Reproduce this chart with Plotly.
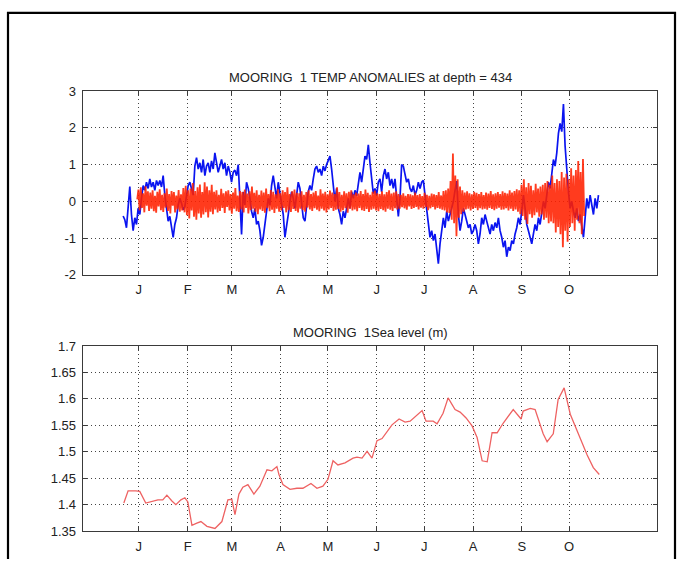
import plotly.graph_objects as go

# ---- time axis (days since 1 January) ----
month_days = [0, 31, 59, 90, 120, 151, 181, 212, 243, 273]
month_labels = ["J", "F", "M", "A", "M", "J", "J", "A", "S", "O"]
x_range = [-35.6, 328.9]

# ---- temperature anomaly, low-passed record (blue), regular sampling ----
temp_start, temp_step = -9.95, 1.058
temp_anom = [
    -0.4, -0.5, -0.72, -0.15, 0.4, -0.36, -0.8, -0.45, -0.63, -0.19,
    -0.36, 0.08, 0.43, 0.3, 0.52, 0.35, 0.61, 0.39, 0.52, 0.3,
    0.57, 0.43, 0.57, 0.39, 0.7, 0.17, -0.19, -0.54, -0.41, -0.72,
    -0.98, -0.63, -0.45, -0.1, 0.08, -0.05, -0.23, -0.14, 0.17, 0.43,
    0.52, 0.35, 0.17, 0.96, 1.19, 0.88, 1.05, 0.79, 1.14, 0.7,
    0.96, 1.05, 0.79, 1.1, 0.88, 1.32, 1.05, 0.79, 0.96, 1.14,
    0.88, 1.05, 0.7, 0.96, 0.79, 0.52, 0.79,
    0.85, 0.7, 1.0, 0.08, -0.9, 0.26, -0.1, 0.52, 0.35, 0.08,
    -0.27, -0.45, -0.19, -0.63, -0.54, -0.8, -1.2, -0.98, -0.63, -0.36,
    0.08, -0.1, 0.43, 0.7, 0.35, 0.08, 0.52, 0.26, -0.1, -0.36,
    -0.98, -0.72, -0.36, 0.0, 0.26, 0.08, -0.19, 0.17, 0.52, 0.35,
    -0.1, -0.45, -0.54, -0.19, 0.26, 0.43, 0.3, 0.61, 0.88, 0.96,
    0.79, 0.88, 0.7, 0.96, 0.83, 1.0, 1.14, 1.23, 0.88, 0.52,
    0.0, 0.35, -0.19, -0.36, -0.63, -0.27, -0.45, -0.19, 0.08, -0.19,
    0.26, 0.08,
    0.3, 0.15, 0.45, 0.79, 0.52, 0.96, 1.23, 1.14, 1.54, 1.05,
    0.52, 0.21, 0.35, 0.17, 0.52, 0.61, 0.26, 0.7, 0.88, 0.61,
    0.79, 0.43, 0.61, 0.35, 0.61, 0.08, -0.41, 0.08, 1.0, 0.96,
    0.7, 0.52, 0.61, 0.35, 0.26, 0.43, 0.17, 0.3, 0.52, 0.35,
    0.52, 0.57, 0.17, -0.27, -0.63, -0.98, -0.8, -1.07, -0.89, -1.25,
    -1.7, -1.16, -0.8, -0.45, -0.72, -0.27, -0.54, -0.36, -0.19, 0.0,
    0.3, 0.55, -0.36, -0.8, -0.54, -0.19, -0.36, -0.54, -0.72, -0.63,
    -0.89, -0.8,
    -0.63, -0.8, -1.16, -0.89, -0.45, -0.63, -0.36, -0.54, -0.72, -0.89,
    -0.63, -0.8, -0.58, -0.72, -0.45, -0.8, -0.98, -1.25, -1.07, -1.51,
    -1.25, -1.34, -1.07, -1.16, -0.89, -0.72, -0.45, -0.63, -0.27, 0.17,
    -0.19, -0.63, -0.8, -0.98, -1.16, -0.89, -0.63, -0.8, -0.45, -0.63,
    -0.27, 0.0, -0.19, 0.26, 0.52, 0.35, 0.7, 1.14, 0.96, 1.32,
    1.85, 2.12, 1.9, 2.65, 1.5, 0.8, 0.26, -0.19, 0.0, -0.27,
    -0.45, -0.19, -0.54, -0.36, -0.63, -0.98, -0.45, 0.08, -0.19, 0.17,
    -0.1, -0.36, 0.08, -0.19, 0.17,
]

# ---- temperature anomaly, high-frequency record (red), regular sampling ----
hf_start, hf_step = -1.0, 0.75
temp_hf = [
    0.05, 0.32, -0.25, 0.38, -0.18, 0.22, -0.3, 0.41, -0.12, 0.27, -0.26,
    0.24, -0.2, 0.3, -0.27, 0.15, -0.31, 0.26, -0.14, 0.33, -0.24,
    0.18, -0.29, 0.22, -0.17, 0.35, -0.26, 0.2, -0.33, 0.28, -0.12,
    0.25, -0.3, 0.16, -0.22, 0.31, -0.28, 0.19, -0.25, 0.36,
    -0.3, 0.42, -0.38, 0.3, -0.47, 0.35, -0.25, 0.5, -0.42, 0.28,
    -0.5, 0.38, -0.33, 0.46, -0.45, 0.25, -0.36, 0.52, -0.3, 0.4,
    -0.44, 0.3, -0.28, 0.45, -0.35,
    0.26, -0.22, 0.3, -0.3, 0.18, -0.26, 0.34, -0.18, 0.22, -0.32,
    0.27, -0.15, 0.3, -0.25, 0.2, -0.34, 0.24, -0.2, 0.36, -0.27,
    0.16, -0.29, 0.28, -0.22, 0.25, -0.3, 0.32, -0.18, 0.21, -0.33,
    0.27, -0.24, 0.4, -0.2, 0.23, -0.28, 0.3, -0.35, 0.18, -0.22,
    0.29, -0.26, 0.24, -0.31, 0.35, -0.19, 0.2, -0.27, 0.31, -0.23,
    0.26, -0.32, 0.19, -0.2, 0.33, -0.28, 0.22, -0.25, 0.3, -0.18,
    0.25, -0.3, 0.38, -0.24, 0.2, -0.29, 0.27, -0.21, 0.32, -0.26,
    0.23, -0.3,
    0.22, -0.2, 0.27, -0.24, 0.18, -0.28, 0.25, -0.17, 0.3, -0.22,
    0.2, -0.26, 0.24, -0.19, 0.28, -0.23, 0.16, -0.27, 0.33, -0.2,
    0.21, -0.25, 0.26, -0.3, 0.19, -0.22, 0.29, -0.18, 0.24, -0.26,
    0.2, -0.23, 0.38, -0.21, 0.25, -0.28, 0.18, -0.24, 0.27, -0.19,
    0.22, -0.31, 0.26, -0.2, 0.3, -0.25, 0.19, -0.22, 0.24, -0.27,
    0.21, -0.18, 0.28, -0.24, 0.2, -0.26, 0.32, -0.21, 0.23, -0.29,
    0.18, -0.23, 0.26, -0.2, 0.29, -0.25, 0.22, -0.27, 0.2, -0.21,
    0.27, -0.24, 0.19, -0.28, 0.25, -0.2, 0.3, -0.23, 0.21, -0.26,
    0.24, -0.19, 0.27, -0.22, 0.2,
    -0.2, 0.18, -0.16, 0.22, -0.19, 0.15, -0.23, 0.2, -0.14, 0.19,
    -0.21, 0.16, -0.18, 0.24, -0.15, 0.17, -0.22, 0.2, -0.17, 0.14,
    -0.2, 0.23, -0.16, 0.18, -0.24, 0.15, -0.19, 0.21, -0.15, 0.19,
    -0.22, 0.17, -0.18, 0.25, -0.2, 0.16, -0.23, 0.28, -0.25, 0.3,
    -0.3, 0.35, -0.32,
    0.55, -0.5, 1.3, -0.6, 0.7, -0.95, 0.6, -0.45,
    0.4, -0.35, 0.3, -0.28, 0.24, -0.22, 0.27, -0.2, 0.22, -0.25,
    0.19, -0.21, 0.26, -0.18, 0.23, -0.24, 0.2, -0.19, 0.25, -0.22,
    0.17, -0.2, 0.24, -0.23, 0.21, -0.18, 0.28, -0.21, 0.19, -0.24,
    0.22, -0.2, 0.25, -0.17, 0.2, -0.23, 0.27, -0.22, 0.23, -0.19,
    0.21, -0.25, 0.3, -0.2, 0.24, -0.26, 0.28, -0.22, 0.33, -0.28,
    0.3,
    -0.35, 0.45, -0.4, 0.6, -0.5, 0.38, -0.62, 0.5, -0.35, 0.42,
    -0.45, 0.3, -0.38, 0.48, -0.3, 0.35, -0.42, 0.4, -0.36, 0.45,
    -0.5, 0.5, -0.45, 0.55, -0.6, 0.45, -0.55, 0.7, -0.6, 0.5,
    -0.85, 0.6, -0.7, 0.55, -0.9, 0.8, -1.25, 0.65, -0.8, 0.75,
    -1.1, 0.6, -0.7, 0.9, -0.6, 0.7, -0.8, 0.85, -0.5, 1.1,
    -0.6, 0.8, -0.9, 1.15, -0.4,
]

# ---- sea level (m) ----
sl_day = [
    -9.5, -6.8, -1.9, 0.6, 4.4, 8.9, 12.1, 15.2, 17.8, 21.0,
    23.5, 26.7, 29.2, 31.1, 33.7, 36.8, 39.4, 43.2, 48.3, 52.7,
    56.5, 59.0, 61.0, 63.5, 66.0, 69.2, 73.0, 76.8, 81.3, 84.4,
    87.6, 88.9, 91.4, 95.9, 100.3, 104.1, 109.2, 113.0, 116.8, 120.0,
    123.2, 126.3, 130.8, 135.9, 138.4, 141.6, 144.8, 147.9, 151.1, 154.3,
    157.5, 160.6, 165.1, 168.9, 172.1, 176.5, 179.7, 182.2, 186.7, 189.2,
    193.0, 196.2, 200.6, 203.8, 207.6, 211.4, 214.6, 217.8, 221.0, 224.1,
    227.3, 231.1, 237.5, 242.5, 243.8, 248.3, 251.4, 256.5, 259.0, 262.9,
    266.0, 269.8, 273.7, 279.4, 284.4, 288.3, 292.1,
]
sl_val = [
    1.403, 1.426, 1.426, 1.425, 1.403, 1.407, 1.409, 1.409, 1.418, 1.407,
    1.400, 1.409, 1.413, 1.405, 1.361, 1.365, 1.368, 1.359, 1.355, 1.368,
    1.409, 1.410, 1.381, 1.420, 1.433, 1.438, 1.420, 1.435, 1.466, 1.464,
    1.472, 1.457, 1.438, 1.429, 1.431, 1.431, 1.440, 1.431, 1.435, 1.448,
    1.483, 1.475, 1.479, 1.488, 1.490, 1.488, 1.501, 1.488, 1.521, 1.525,
    1.538, 1.551, 1.562, 1.556, 1.558, 1.569, 1.578, 1.558, 1.558, 1.553,
    1.573, 1.602, 1.580, 1.575, 1.564, 1.549, 1.527, 1.483, 1.481, 1.536,
    1.536, 1.554, 1.580, 1.562, 1.577, 1.582, 1.580, 1.534, 1.519, 1.534,
    1.599, 1.621, 1.571, 1.530, 1.494, 1.470, 1.457,
]

temp_ticks = [-2, -1, 0, 1, 2, 3]
temp_ticktext = ["-2", "-1", "0", "1", "2", "3"]
sl_ticks = [1.35, 1.4, 1.45, 1.5, 1.55, 1.6, 1.65, 1.7]
sl_ticktext = ["1.35", "1.4", "1.45", "1.5", "1.55", "1.6", "1.65", "1.7"]

temp_days = [temp_start + i * temp_step for i in range(len(temp_anom))]
hf_days = [hf_start + i * hf_step for i in range(len(temp_hf))]

W, H = 682, 567
FONT = "Liberation Sans, Arial, Helvetica, sans-serif"
TXT = "#222222"

fig = go.Figure()
fig.add_trace(go.Scatter(x=temp_days, y=temp_anom, mode="lines",
                         line=dict(color="#0a14f0", width=1.7),
                         xaxis="x", yaxis="y", showlegend=False))
fig.add_trace(go.Scatter(x=hf_days, y=temp_hf, mode="lines",
                         line=dict(color="rgb(255,32,0)", width=1.8),
                         opacity=0.88,
                         xaxis="x", yaxis="y", showlegend=False))
fig.add_trace(go.Scatter(x=sl_day, y=sl_val, mode="lines",
                         line=dict(color="#ee6262", width=1.3),
                         xaxis="x2", yaxis="y2", showlegend=False))

x_dom = [82.7 / W, 657.3 / W]
top_dom = [1 - 275.0 / H, 1 - 86.5 / H]
bot_dom = [1 - 538.3 / H, 1 - 348.3 / H]

common = dict(
    showline=True, linecolor="#3a3a3a", linewidth=1, mirror="ticks",
    ticks="inside", ticklen=4, tickcolor="#3a3a3a", tickwidth=1,
    showgrid=True, gridcolor="#444444", gridwidth=1, griddash="1px,3px",
    zeroline=False, tickfont=dict(family=FONT, size=13, color=TXT),
)

fig.update_layout(
    width=W, height=H,
    margin=dict(l=0, r=0, t=0, b=0),
    paper_bgcolor="white", plot_bgcolor="white",
    xaxis=dict(domain=x_dom, range=x_range, tickmode="array",
               tickvals=month_days, ticktext=month_labels,
               anchor="y", ticklabelstandoff=3, **common),
    yaxis=dict(domain=top_dom, range=[-2, 3], tickmode="array",
               tickvals=temp_ticks, ticktext=temp_ticktext,
               anchor="x", ticklabelstandoff=3, **common),
    xaxis2=dict(domain=x_dom, range=x_range, tickmode="array",
                tickvals=month_days, ticktext=month_labels,
                anchor="y2", ticklabelstandoff=3, **common),
    yaxis2=dict(domain=bot_dom, range=[1.35, 1.7], tickmode="array",
                tickvals=sl_ticks, ticktext=sl_ticktext,
                anchor="x2", ticklabelstandoff=3, **common),
)

# panel titles
fig.add_annotation(text="MOORING  1 TEMP ANOMALIES at depth = 434",
                   x=370 / W, y=1 - 72.5 / H, xref="paper", yref="paper",
                   showarrow=False, xanchor="center", yanchor="middle",
                   font=dict(family=FONT, size=13, color=TXT))
fig.add_annotation(text="MOORING  1Sea level (m)",
                   x=370 / W, y=1 - 334 / H, xref="paper", yref="paper",
                   showarrow=False, xanchor="center", yanchor="middle",
                   font=dict(family=FONT, size=13, color=TXT))

# page frame (open at the bottom)
fl, fr, ft = 8 / W, 675 / W, 1 - 6 / H
fig.add_shape(type="path", xref="paper", yref="paper",
              path=f"M {fl},0 L {fl},{ft} L {fr},{ft} L {fr},0",
              line=dict(color="black", width=2.2))

fig.write_html("out.html")
